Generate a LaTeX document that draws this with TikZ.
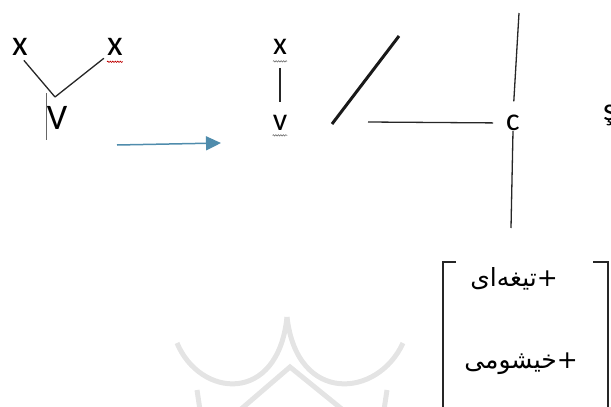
\documentclass[tikz,border=0pt]{standalone}
\usepackage{fontspec}
\setmainfont{Carlito}
\newfontfamily\farsifont[Script=Arabic]{DejaVu Sans}
\TeXXeTstate=1
\usetikzlibrary{arrows.meta,decorations.pathmorphing}

\definecolor{arrowblue}{RGB}{79,140,172}
\definecolor{markgray}{RGB}{228,228,228}
\tikzset{
  seg/.style={line width=1.3pt, black!85},
  wavy/.style={decorate, decoration={snake, amplitude=0.7pt, segment length=2.5pt}, line width=0.6pt},
  bigletter/.style={font=\fontsize{36}{36}\selectfont, inner sep=0pt},
  letter/.style={font=\fontsize{32}{32}\selectfont, inner sep=0pt},
  feature/.style={font=\farsifont\fontsize{25}{25}\selectfont, inner sep=0pt},
}

\begin{document}
\begin{tikzpicture}[x=1pt, y=-1pt]
  \useasboundingbox (0,0) rectangle (611,407);

  % faint watermark in the background
  \draw[markgray, line width=5pt] (177,343) .. controls (200,398) and (278,405) .. (287,317);
  \draw[markgray, line width=5pt] (287,317) .. controls (297,405) and (378,398) .. (403,343);
  \draw[markgray, line width=5pt] (240,410) -- (290,367) -- (343,410);
  \draw[markgray, line width=5pt] (197,390) -- (200,410);
  \draw[markgray, line width=5pt] (387,390) -- (384,410);

  % left tree
  \node[bigletter] (xa) at (20,47) {x};
  \node[bigletter] (xb) at (115,47) {x};
  \node[bigletter] (V) at (57,118) {V};
  \coordinate (join) at (55,97);
  \draw[seg, shorten <=6pt] (xa.south) -- (join);
  \draw[seg, shorten >=4pt] (join) -- (xb.south west);
  \draw[black!60, line width=0.8pt] ([yshift=13pt]V.north west) -- ([yshift=-10pt]V.south west);
  \draw[wavy, red!75!black] ([yshift=-6pt]xb.south west) -- ([yshift=-6pt]xb.south east);

  % arrow between the two trees
  \coordinate (from) at (117,145);
  \coordinate (to) at (221,143);
  \draw[arrowblue, line width=1.5pt, -{Triangle[length=15pt,width=14pt]}] (from) -- (to);

  % right tree
  \node[letter] (xr) at (280,47) {x};
  \node[letter] (vr) at (280,123) {v};
  \draw[seg, shorten <=13pt, shorten >=13pt] (xr.south) -- (vr.north);
  \draw[wavy, black!55] ([yshift=-6.5pt]xr.south west) -- ([yshift=-6.5pt]xr.south east);
  \draw[wavy, black!55] ([yshift=-4.5pt]vr.south west) -- ([yshift=-4.5pt]vr.south east);

  % slash and the c node
  \coordinate (slash-lo) at (332,124);
  \coordinate (slash-hi) at (399,36);
  \draw[black!90, line width=3pt] (slash-lo) -- (slash-hi);
  \node[letter] (c) at (513,123) {c};
  \coordinate (bar-left) at (368,122);
  \coordinate (top-end) at (519,13);
  \coordinate (low-end) at (511,228);
  \draw[seg, shorten >=13pt] (bar-left) -- (c.west);
  \draw[seg, shorten >=13.5pt] (top-end) -- (c.north);
  \draw[seg] (c.south) -- (low-end);
  \node[letter, anchor=base west] (sh) at (603,120) {ş};

  % feature matrix
  \coordinate (lbr) at (443,262);
  \coordinate (rbr) at (608,262);
  \draw[seg] ([xshift=13pt]lbr) -- (lbr) -- ([yshift=-150pt]lbr);
  \draw[seg] ([xshift=-15pt]rbr) -- (rbr) -- ([yshift=-150pt]rbr);
  \node[feature] (blade) at (514,279) {\beginR +تیغه‌ای\endR};
  \node[feature] (nasal) at (521,364) {\beginR +خیشومی\endR};
\end{tikzpicture}
\end{document}
